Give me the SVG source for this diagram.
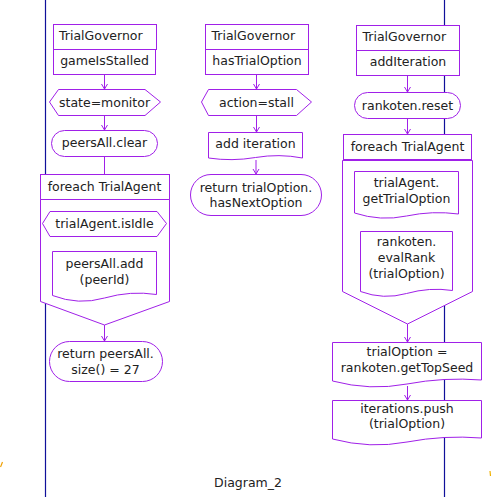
<svg xmlns="http://www.w3.org/2000/svg" width="493" height="497" viewBox="0 0 493 497">
  <style>
    .shape { fill: #ffffff; stroke: #a020e8; stroke-width: 1; }
    .edge { fill: none; stroke: #a020e8; stroke-width: 1; }
    .lane { stroke: #10109a; stroke-width: 1.2; fill: none; }
    text { font-family: "DejaVu Sans", "Liberation Sans", sans-serif; font-size: 12.5px; fill: #222222; }
    .c { text-anchor: middle; }
  </style>
  <defs>
    <marker id="arrow" viewBox="-6 -4 7 8" refX="0" refY="0" markerWidth="7" markerHeight="8" markerUnits="userSpaceOnUse" orient="auto">
      <path d="M -5 -3 L 0 0 L -5 3" fill="none" stroke="#a020e8" stroke-width="1"/>
    </marker>
  </defs>

  <rect width="493" height="497" fill="#ffffff"/>

  <!-- swimlane borders -->
  <g id="lanes">
    <line class="lane" x1="45.5" y1="0" x2="45.5" y2="497"/>
    <line class="lane" x1="444.5" y1="0" x2="444.5" y2="497"/>
    <path d="M 0.5 467 L 2.5 462" stroke="#f0a000" stroke-width="1.2" fill="none"/>
    <path d="M 490 471 L 490.5 476" stroke="#f0b000" stroke-width="1.2" fill="none"/>
  </g>

  <!-- connectors -->
  <g id="connectors">
    <line class="edge" x1="104.5" y1="74" x2="104.5" y2="89" marker-end="url(#arrow)"/>
    <line class="edge" x1="104.5" y1="115" x2="104.5" y2="130" marker-end="url(#arrow)"/>
    <line class="edge" x1="104.5" y1="156" x2="104.5" y2="174"/>
    <line class="edge" x1="104.5" y1="236" x2="104.5" y2="251" marker-end="url(#arrow)"/>
    <line class="edge" x1="104.5" y1="325" x2="104.5" y2="341" marker-end="url(#arrow)"/>

    <line class="edge" x1="256.5" y1="74" x2="256.5" y2="89" marker-end="url(#arrow)"/>
    <line class="edge" x1="256.5" y1="115" x2="256.5" y2="132" marker-end="url(#arrow)"/>
    <line class="edge" x1="256" y1="160" x2="256" y2="174" marker-end="url(#arrow)"/>

    <line class="edge" x1="407.5" y1="75" x2="407.5" y2="92" marker-end="url(#arrow)"/>
    <line class="edge" x1="407.5" y1="118" x2="407.5" y2="134" marker-end="url(#arrow)"/>
    <line class="edge" x1="406.5" y1="218" x2="406.5" y2="231" marker-end="url(#arrow)"/>
    <line class="edge" x1="407.5" y1="324" x2="407.5" y2="342" marker-end="url(#arrow)"/>
    <line class="edge" x1="407.5" y1="386" x2="407.5" y2="400" marker-end="url(#arrow)"/>
  </g>

  <!-- gameIsStalled -->
  <g id="gameIsStalled-head">
    <rect class="shape" x="53.5" y="24.5" width="103" height="25"/>
    <text x="59" y="40">TrialGovernor</text>
    <rect class="shape" x="53.5" y="49.5" width="102" height="25"/>
    <text class="c" x="104.5" y="65">gameIsStalled</text>
  </g>
  <g id="state-monitor">
    <polygon class="shape" points="49.5,102 58.5,89.5 145,89.5 160.5,102 145,115.5 58.5,115.5"/>
    <text class="c" x="104.5" y="106.5">state=monitor</text>
  </g>
  <g id="peersAll-clear">
    <rect class="shape" x="51.5" y="130.5" width="106" height="26" rx="13" ry="13"/>
    <text class="c" x="104.5" y="147">peersAll.clear</text>
  </g>
  <g id="foreach-agent-1">
    <rect class="shape" x="40.5" y="174.5" width="129" height="25"/>
    <text class="c" x="104.5" y="191">foreach TrialAgent</text>
    <polygon class="shape" points="40.5,199.5 169.5,199.5 169.5,301.5 104.5,325 40.5,301.5"/>
  </g>
  <g id="trialAgent-isIdle">
    <polygon class="shape" points="42.5,223.5 50,211.5 157,211.5 166.5,223.5 157,236.5 50,236.5"/>
    <text class="c" x="104.5" y="228">trialAgent.isIdle</text>
  </g>
  <g id="peersAll-add">
    <path class="shape" d="M 52.5 251.5 H 156.5 V 294.5 Q 130.5 290.5 104.5 298 T 52.5 295.5 Z"/>
    <text class="c" x="104.5" y="268">peersAll.add</text>
    <text class="c" x="104.5" y="284">(peerId)</text>
  </g>
  <g id="return-peersAll">
    <rect class="shape" x="49.5" y="341.5" width="113" height="40" rx="20" ry="20"/>
    <text class="c" x="105.5" y="358">return peersAll.</text>
    <text class="c" x="105.5" y="373.5">size() = 27</text>
  </g>

  <!-- hasTrialOption -->
  <g id="hasTrialOption-head">
    <rect class="shape" x="205.5" y="24.5" width="103" height="25"/>
    <text x="211.5" y="40">TrialGovernor</text>
    <rect class="shape" x="205.5" y="49.5" width="103" height="25"/>
    <text class="c" x="257" y="65">hasTrialOption</text>
  </g>
  <g id="action-stall">
    <polygon class="shape" points="201.5,102 208.5,89.5 296.5,89.5 311.5,102 296.5,115.5 208.5,115.5"/>
    <text class="c" x="256.5" y="106.5">action=stall</text>
  </g>
  <g id="add-iteration">
    <path class="shape" d="M 208.5 132.5 H 302.5 V 158 Q 279 153.5 255.5 157.5 T 208.5 158 Z"/>
    <text class="c" x="255.5" y="147.5">add iteration</text>
  </g>
  <g id="return-trialOption">
    <rect class="shape" x="190.5" y="174.5" width="131" height="41" rx="20.5" ry="20.5"/>
    <text class="c" x="256" y="191.5">return trialOption.</text>
    <text class="c" x="256" y="207">hasNextOption</text>
  </g>

  <!-- addIteration -->
  <g id="addIteration-head">
    <rect class="shape" x="356.5" y="25.5" width="103" height="25"/>
    <text x="362.5" y="40.5">TrialGovernor</text>
    <rect class="shape" x="356.5" y="50.5" width="103" height="25"/>
    <text class="c" x="408" y="66">addIteration</text>
  </g>
  <g id="rankoten-reset">
    <rect class="shape" x="354.5" y="92.5" width="106" height="26" rx="13" ry="13"/>
    <text class="c" x="407.5" y="109.5">rankoten.reset</text>
  </g>
  <g id="foreach-agent-2">
    <rect class="shape" x="343.5" y="134.5" width="128" height="25"/>
    <text class="c" x="407.5" y="151">foreach TrialAgent</text>
    <polygon class="shape" points="342.5,160.5 472.5,160.5 472.5,291.5 407.5,324 342.5,291.5"/>
  </g>
  <g id="getTrialOption">
    <path class="shape" d="M 354.5 171.5 H 458.5 V 214 Q 432.5 210.5 406.5 216 T 354.5 213 Z"/>
    <text class="c" x="406.5" y="186.5">trialAgent.</text>
    <text class="c" x="406.5" y="202.5">getTrialOption</text>
  </g>
  <g id="evalRank">
    <path class="shape" d="M 360.5 231.5 H 452.5 V 290.5 Q 429.5 287 406.5 293.5 T 360.5 291.5 Z"/>
    <text class="c" x="406.5" y="246">rankoten.</text>
    <text class="c" x="406.5" y="262">evalRank</text>
    <text class="c" x="406.5" y="277.5">(trialOption)</text>
  </g>
  <g id="getTopSeed">
    <path class="shape" d="M 332.5 342.5 H 481.5 V 380 Q 444 377 407 384 T 332.5 381 Z"/>
    <text class="c" x="407" y="355.5">trialOption =</text>
    <text class="c" x="407" y="371.5">rankoten.getTopSeed</text>
  </g>
  <g id="iterations-push">
    <path class="shape" d="M 332.5 400.5 H 481.5 V 438 Q 444 435 407 442 T 332.5 439 Z"/>
    <text class="c" x="407" y="412.5">iterations.push</text>
    <text class="c" x="407" y="428">(trialOption)</text>
  </g>

  <text class="c" x="248" y="487">Diagram_2</text>
</svg>
